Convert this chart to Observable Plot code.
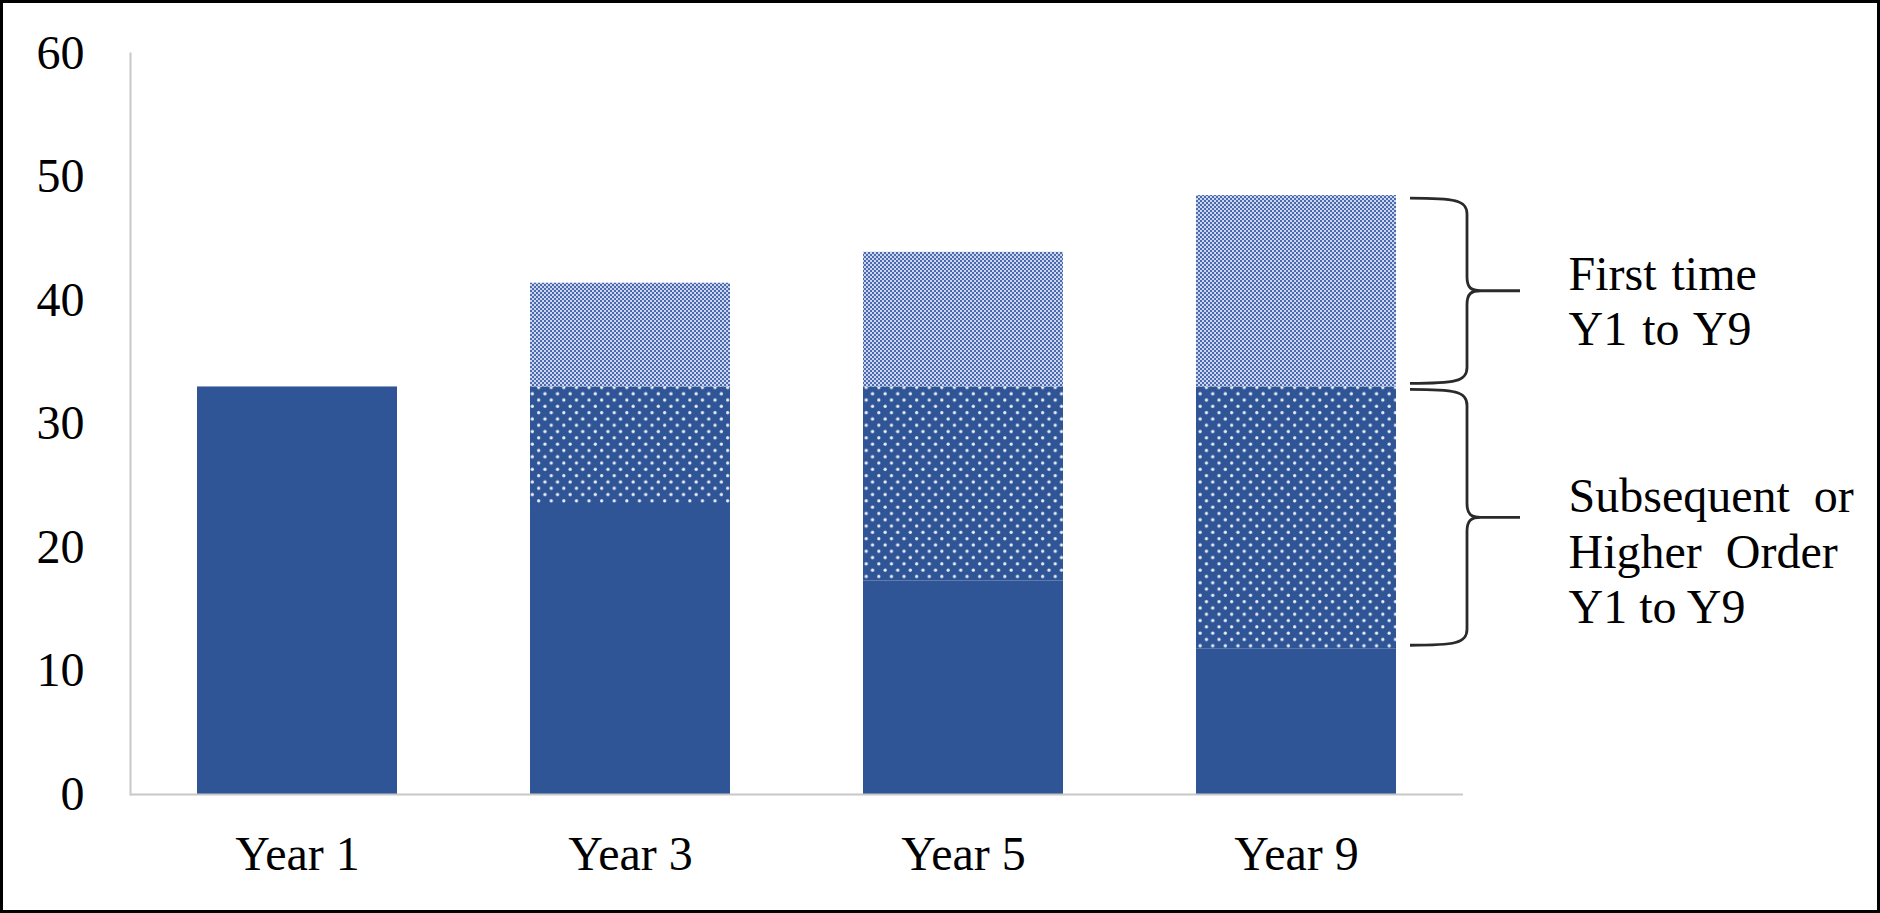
<!DOCTYPE html>
<html><head><meta charset="utf-8">
<script src="https://cdn.jsdelivr.net/npm/d3@7"></script>
<script src="https://cdn.jsdelivr.net/npm/@observablehq/plot@0.6"></script>
<style>
html,body{margin:0;padding:0;background:#fff;}
#chart{width:1880px;height:913px;}
#chart svg{display:block;}
</style></head><body><div id="chart"></div>
<script>
// ---- data ----
const years = ["Year 1", "Year 3", "Year 5", "Year 9"];
const seriesNames = ["Year 1 cohort", "Subsequent or Higher Order Y1 to Y9", "First time Y1 to Y9"];
const baseValues = [33, 23.4, 17.3, 11.8];
const subsequentValues = [0, 9.6, 15.7, 21.2];
const firstTimeValues = [0, 8.4, 10.9, 15.5];
const yTicks = [0, 10, 20, 30, 40, 50, 60];
const braceLabels = ["First time\nY1 to Y9", "Subsequent or\nHigher Order\nY1 to Y9"];

const rows = [];
years.forEach((yr, i) => {
  rows.push({year: yr, series: seriesNames[0], value: baseValues[i]});
  rows.push({year: yr, series: seriesNames[1], value: subsequentValues[i]});
  rows.push({year: yr, series: seriesNames[2], value: firstTimeValues[i]});
});

// brace segments for the last year
const li = years.length - 1;
const b0 = baseValues[li], b1 = b0 + subsequentValues[li], b2 = b1 + firstTimeValues[li];
const braces = [
  {year: years[li], lo: b1, hi: b2, label: braceLabels[0]},
  {year: years[li], lo: b0, hi: b1, label: braceLabels[1]}
];

const BLUE = "#2f5597";
const textOpts = {x: "year", y: d => (d.lo + d.hi) / 2, text: "label", dx: 272,
  textAnchor: "start", lineAnchor: "middle", lineHeight: 1.15, fontSize: 48, fill: "#000"};

const svg = Plot.plot({
  width: 1880,
  height: 913,
  marginLeft: 130,
  marginRight: 417,
  marginTop: 53,
  marginBottom: 119,
  style: {fontFamily: "'Liberation Serif', 'Times New Roman', serif", fontSize: "48px", color: "#000", background: "#fff", overflow: "visible"},
  x: {domain: years, paddingInner: 0.4, paddingOuter: 0.2, label: null},
  y: {domain: [0, 60], label: null},
  color: {domain: seriesNames, range: [BLUE, "url(#dotsPat)", "url(#checkPat)"]},
  marks: [
    Plot.frame({anchor: "left", stroke: "#c8c8c8", strokeWidth: 2}),
    Plot.barY(rows, {x: "year", y: "value", fill: "series", order: seriesNames, inset: 0}),
    Plot.ruleY([0], {stroke: "#c8c8c8", strokeWidth: 2}),
    Plot.axisY({ticks: yTicks, tickSize: 0, tickPadding: 46, fontSize: 48, label: null, tickFormat: d => String(d)}),
    Plot.axisX({tickSize: 0, tickPadding: 41, fontSize: 48, label: null}),
    Plot.text(braces.slice(0, 1), {...textOpts, dy: 9, className: "lab-top"}),
    Plot.text(braces.slice(1), {...textOpts, dy: 32, className: "lab-bottom"})
  ]
});

const NS = "http://www.w3.org/2000/svg";
const defs = document.createElementNS(NS, "defs");
defs.innerHTML = `
  <pattern id="dotsPat" patternUnits="userSpaceOnUse" width="12.6" height="12.6">
    <rect width="12.6" height="12.6" fill="${BLUE}"/>
    <circle cx="3.15" cy="3.15" r="1.65" fill="#ffffff" fill-opacity="0.9"/>
    <circle cx="9.45" cy="9.45" r="1.65" fill="#ffffff" fill-opacity="0.9"/>
  </pattern>
  <pattern id="checkPat" patternUnits="userSpaceOnUse" width="4" height="4">
    <rect width="4" height="4" fill="#cdd6ec"/>
    <rect width="2" height="2" fill="#4a6bad"/>
    <rect x="2" y="2" width="2" height="2" fill="#4a6bad"/>
  </pattern>`;
svg.insertBefore(defs, svg.firstChild);

// justified-looking word spacing (last line of a paragraph left as is)
d3.select(svg).selectAll(".lab-bottom text tspan").filter((d, i, n) => i < n.length - 1).style("word-spacing", "12px");
d3.select(svg).selectAll(".lab-top text tspan").style("word-spacing", "3px");

// braces drawn with the plot's own scales
const xs = svg.scale("x"), ys = svg.scale("y");
const g = d3.select(svg).append("g").attr("fill", "none").attr("stroke", "#2a2a2a").attr("stroke-width", 2.8);
braces.forEach(b => {
  const right = xs.apply(b.year) + xs.bandwidth;
  const x0 = right + 14, xv = right + 71, xt = right + 124;
  const yt = ys.apply(b.hi) + 3, yb = ys.apply(b.lo) - 3, ym = (yt + yb) / 2;
  const p = `M${x0},${yt} C${xv - 12},${yt} ${xv},${yt + 2} ${xv},${yt + 16}
    L${xv},${ym - 14} C${xv},${ym - 3} ${xv + 4},${ym} ${xv + 14},${ym} L${xt},${ym}
    M${xv + 14},${ym} C${xv + 4},${ym} ${xv},${ym + 3} ${xv},${ym + 14}
    L${xv},${yb - 16} C${xv},${yb - 2} ${xv - 12},${yb} ${x0},${yb}`;
  g.append("path").attr("d", p);
});

// outer black border of the picture
const W = +svg.getAttribute("width"), H = +svg.getAttribute("height");
d3.select(svg).append("rect").attr("x", 1.5).attr("y", 1.5).attr("width", W - 3).attr("height", H - 3)
  .attr("fill", "none").attr("stroke", "#000").attr("stroke-width", 3);

document.getElementById("chart").appendChild(svg);
</script></body></html>
